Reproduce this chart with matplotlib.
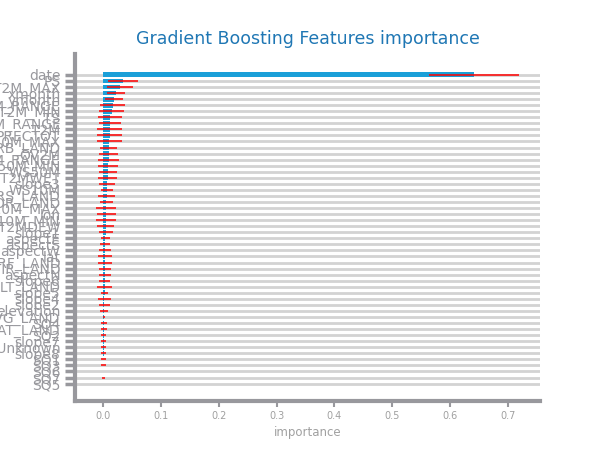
import matplotlib
matplotlib.use("Agg")
import matplotlib.pyplot as plt
import numpy as np

# features sorted by importance (top of chart first)
features = ['date', 'PS', 'T2M_MAX', 'xmonth', 'ymonth', 'WS10M_RANGE', 'T2M_MIN', 'TS',
            'T2M_RANGE', 'T2M', 'PRECTOT', 'WS50M_MAX', 'URB_LAND', 'QV2M', 'WS50M_RANGE',
            'WS50M_MIN', 'WS50M', 'T2MWET', 'slope3', 'WS10M', 'GRS_LAND', 'FOR_LAND',
            'WS10M_MAX', 'lon', 'WS10M_MIN', 'T2MDEW', 'slope1', 'aspectE', 'aspectS',
            'aspectW', 'lat', 'CULTRF_LAND', 'CULTIR_LAND', 'aspectN', 'slope6', 'CULT_LAND',
            'slope5', 'slope4', 'slope2', 'elevation', 'NVG_LAND', 'SQ4', 'WAT_LAND', 'SQ2',
            'slope7', 'aspectUnknown', 'slope8', 'SQ1', 'SQ3', 'SQ6', 'SQ7', 'SQ5']

importance = [0.642, 0.034, 0.029, 0.022, 0.0185, 0.016, 0.0145, 0.012, 0.0115, 0.011,
              0.011, 0.0105, 0.0095, 0.009, 0.009, 0.0085, 0.008, 0.0075, 0.007, 0.0065,
              0.006, 0.0055, 0.005, 0.0048, 0.0045, 0.0042, 0.004, 0.0037, 0.0035, 0.0033,
              0.0031, 0.003, 0.0028, 0.0026, 0.0025, 0.0023, 0.0022, 0.002, 0.0019, 0.0017,
              0.0008, 0.0007, 0.0006, 0.0005, 0.0005, 0.0004, 0.0004, 0.0003, 0.0002, 0.0,
              0.0001, 0.0]

std = [0.078, 0.026, 0.022, 0.015, 0.016, 0.021, 0.022, 0.021, 0.019, 0.022,
       0.022, 0.021, 0.015, 0.017, 0.019, 0.017, 0.015, 0.016, 0.014, 0.011,
       0.015, 0.012, 0.017, 0.0165, 0.017, 0.0145, 0.012, 0.0072, 0.0087, 0.010,
       0.0115, 0.0115, 0.010, 0.0107, 0.0092, 0.013, 0.0067, 0.0107, 0.0092, 0.0072,
       0.0017, 0.005, 0.005, 0.005, 0.005, 0.005, 0.005, 0.0045, 0.0037, 0.0,
       0.002, 0.0]

gray = '#98989d'

fig, ax = plt.subplots(figsize=(6, 4.5), dpi=100)
y = np.arange(len(features))

ax.barh(y, importance, height=0.8, color='#1a9fd8', xerr=std,
        error_kw={'ecolor': 'red', 'elinewidth': 1.1, 'capsize': 0}, zorder=3)

ax.set_yticks(y)
ax.set_yticklabels(features, fontsize=10, color=gray)
ax.set_ylim(len(features) - 1 + 2.8, -3.45)
ax.set_xlim(-0.049, 0.756)
ax.set_xticks(np.arange(0, 0.71, 0.1))
ax.tick_params(axis='x', labelsize=7, colors=gray, length=4, width=1.5)
ax.tick_params(axis='y', length=7, width=2.5, color=gray)
for lbl in ax.get_xticklabels():
    lbl.set_color('#a0a0a0')

ax.grid(axis='y', color='#d3d3d3', linewidth=2, zorder=0)
ax.set_axisbelow(True)

for side in ['top', 'right']:
    ax.spines[side].set_visible(False)
for side in ['left', 'bottom']:
    ax.spines[side].set_color(gray)
    ax.spines[side].set_linewidth(3)

ax.set_xlabel('importance', fontsize=8.5, color='#a0a0a0')
ax.set_title('Gradient Boosting Features importance', fontsize=12.5, color='#1f77b4', pad=7)

plt.savefig('out.png', dpi=100)
